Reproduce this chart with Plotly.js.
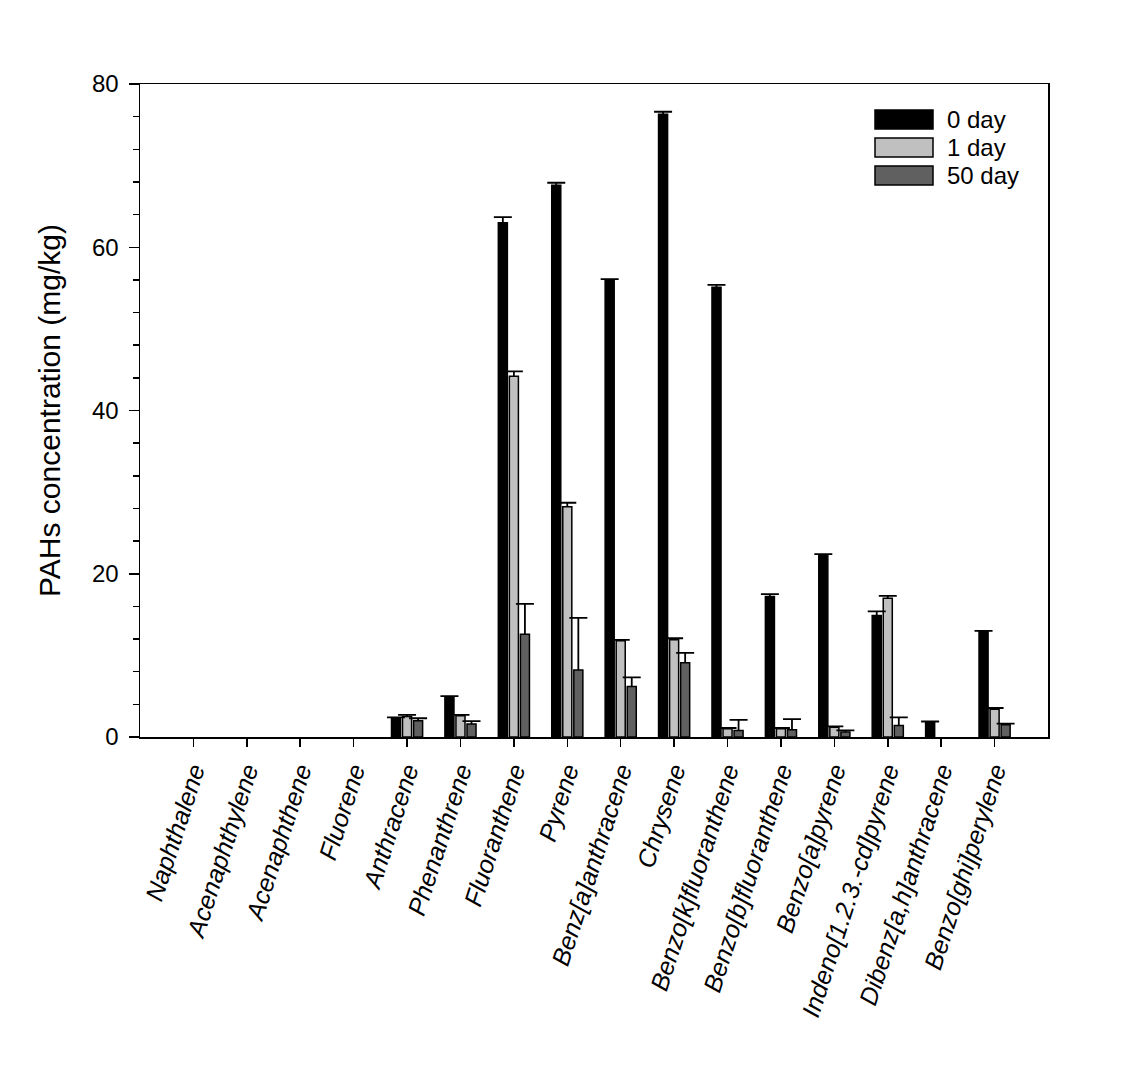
<!DOCTYPE html>
<html>
<head>
<meta charset="utf-8">
<script src="https://cdn.plot.ly/plotly-3.0.1.min.js"></script>
<style>html,body{margin:0;padding:0;background:#fff;}#chart{width:1123px;height:1081px;}</style>
</head>
<body>
<div id="chart"></div>
<script>
const categories = ["Naphthalene","Acenaphthylene","Acenaphthene","Fluorene","Anthracene","Phenanthrene","Fluoranthene","Pyrene","Benz[a]anthracene","Chrysene","Benzo[k]fluoranthene","Benzo[b]fluoranthene","Benzo[a]pyrene","Indeno[1.2.3.-cd]pyrene","Dibenz[a,h]anthracene","Benzo[ghi]perylene"];
const day0 = [0,0,0,0,2.3,4.9,63.0,67.6,55.9,76.3,55.1,17.2,22.2,14.9,1.8,12.9];
const day0Err = [0,0,0,0,0.1,0.1,0.7,0.3,0.2,0.3,0.3,0.3,0.2,0.5,0.1,0.1];
const day1 = [0,0,0,0,2.5,2.6,44.2,28.2,11.8,11.9,1.0,1.0,1.2,17.0,0,3.4];
const day1Err = [0,0,0,0,0.2,0.1,0.6,0.5,0.1,0.2,0.1,0.1,0.1,0.3,0,0.15];
const day50 = [0,0,0,0,2.0,1.6,12.6,8.2,6.2,9.1,0.8,0.9,0.6,1.4,0,1.5];
const day50Err = [0,0,0,0,0.3,0.35,3.7,6.4,1.1,1.2,1.3,1.3,0.2,1.0,0,0.15];
const seriesNames = ["0 day","1 day","50 day"];
const seriesColors = ["#000000","#c0c0c0","#606060"];

const zeros = categories.map(() => 0);
const barTraces = [];
const capTraces = [];
function add(idx, y, err){
  const g = String(idx);
  barTraces.push({
    type:'bar', name:seriesNames[idx], x:categories, y:y, offsetgroup:g,
    marker:{color:seriesColors[idx], line:{color:'#000', width:y.map(v => v > 0 ? 1.5 : 0)}},
    error_y:{type:'data', symmetric:false, array:err, arrayminus:zeros, color:'#000', thickness:1.8, width:0},
    showlegend:false, hoverinfo:'skip'
  });
  // invisible bar whose top sits at value+error; its zero-length error bar draws only the cap
  capTraces.push({
    type:'bar', name:seriesNames[idx]+' cap', x:categories, y:y.map((v,i)=> v > 0 ? v + err[i] : null), offsetgroup:g,
    marker:{color:'rgba(0,0,0,0)', line:{width:0}},
    error_y:{type:'data', symmetric:true, array:zeros, color:'#000', thickness:1.8, width:9},
    showlegend:false, hoverinfo:'skip'
  });
}
add(0, day0, day0Err);
add(1, day1, day1Err);
add(2, day50, day50Err);
// invisible helper trace so the minor-tick axis (y2) is drawn
const helper = {type:'scatter', mode:'markers', x:categories, y:day0, yaxis:'y2',
  marker:{opacity:0, size:1}, showlegend:false, hoverinfo:'skip'};
const data = barTraces.concat(capTraces, [helper]);

const font = "Arial, 'Liberation Sans', sans-serif";
const shapes = [];
const annotations = [];
const legendTop = [110, 138, 166];
seriesNames.forEach((n,i)=>{
  shapes.push({type:'rect', xref:'paper', yref:'paper',
    x0:(875-140)/908, x1:(933-140)/908,
    y0:(737-legendTop[i])/653, y1:(737-legendTop[i]-19)/653,
    fillcolor:seriesColors[i], line:{color:'#000', width:1.5}});
  annotations.push({xref:'paper', yref:'paper', x:(945-140)/908, y:(737-legendTop[i]-9.5)/653,
    text:n, showarrow:false, xanchor:'left', yanchor:'middle',
    font:{family:font, size:24, color:'#000'}});
});

const layout = {
  width:1123, height:1081,
  margin:{l:140, r:75, t:84, b:344},
  paper_bgcolor:'#fff', plot_bgcolor:'#fff',
  barmode:'group', bargap:0.38, bargroupgap:0.18,
  font:{family:font, color:'#000'},
  xaxis:{
    type:'category', range:[-1,16], showline:true, mirror:true, linecolor:'#000', linewidth:1.5,
    ticks:'outside', ticklen:8, tickwidth:1.5, tickcolor:'#000',
    tickangle:-72, tickfont:{family:font, size:25, style:'italic', color:'#000'},
    showgrid:false, zeroline:false
  },
  yaxis:{
    range:[0,80], tickmode:'linear', tick0:0, dtick:20, showline:true, mirror:true, linecolor:'#000', linewidth:1.5,
    ticks:'outside', ticklen:10, tickwidth:1.5, tickcolor:'#000', ticklabelstandoff:5,
    tickfont:{family:font, size:24, color:'#000'},
    showgrid:false, zeroline:false,
    title:{text:'PAHs concentration (mg/kg)', font:{family:font, size:30, color:'#000'}, standoff:22}
  },
  yaxis2:{
    overlaying:'y', side:'left', anchor:'x', range:[0,80], tickmode:'linear', tick0:0, dtick:4,
    ticks:'outside', ticklen:6, tickwidth:1.5, tickcolor:'#000', showticklabels:false,
    showline:false, showgrid:false, zeroline:false
  },
  shapes:shapes, annotations:annotations
};
Plotly.newPlot('chart', data, layout, {staticPlot:true});
</script>
</body>
</html>
